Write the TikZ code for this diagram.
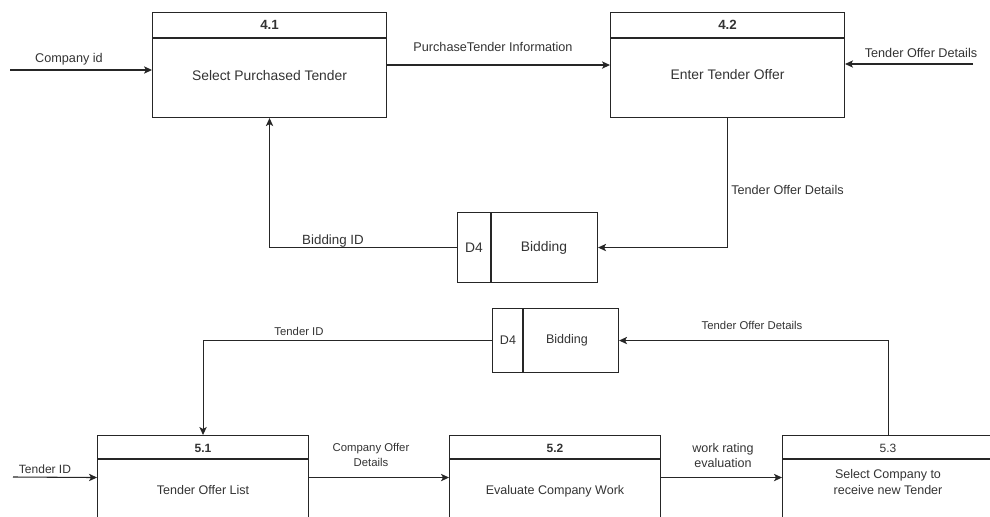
\documentclass[tikz,border=0pt]{standalone}
\usepackage{fontspec}
\setmainfont{Liberation Sans}
\usetikzlibrary{arrows.meta, positioning, calc}
\tikzset{
  box/.style     = {draw=black!85, line width=0.8pt, anchor=north west, inner sep=0pt},
  topproc/.style = {box, minimum width=175.5pt, minimum height=78.75pt},
  botproc/.style = {box, minimum width=158.25pt, minimum height=63pt},
  sep/.style     = {line width=0.8pt, draw=black!85},
  fl/.style      = {-{Stealth[length=6pt, width=5.5pt, inset=1.5pt]}, line width=0.8pt, draw=black!85},
  txt/.style     = {inner sep=0pt, text=black!80, align=center},
  hdtop/.style   = {txt, font=\fontsize{10}{12}\selectfont\bfseries},
  hdbot/.style   = {txt, font=\fontsize{9}{11}\selectfont\bfseries},
  ptop/.style    = {txt, font=\fontsize{10.4}{12.5}\selectfont},
  pbot/.style    = {txt, font=\fontsize{9.4}{12}\selectfont},
  ltop/.style    = {txt, font=\fontsize{9.5}{11.4}\selectfont},
  lbot/.style    = {txt, font=\fontsize{8.5}{11.25}\selectfont},
}

\begin{document}
\begin{tikzpicture}[x=0.75pt, y=-0.75pt]
\useasboundingbox (0,0) rectangle (990,517);
\clip (0,0) rectangle (990,517);

% --- level 4: select tender and enter offer ---------------------------------------
\node[topproc] (p41) at (152,12) {};
\node[topproc] (p42) at (610,12) {};
\node[box, minimum width=105pt, minimum height=52.5pt] (d4a) at (457,212) {};
\foreach \p in {p41,p42}
  \draw[sep] ($(\p.north west)+(0,26)$) -- ($(\p.north east)+(0,26)$);
\draw[sep] ($(d4a.north west)+(34,0)$) -- ($(d4a.south west)+(34,0)$);

\node[hdtop] (h41) at ($(p41.north)+(0,13)$) {4.1};
\node[ptop]  (t41) at ($(p41.north)+(0,64)$) {Select Purchased Tender};
\node[hdtop] (h42) at ($(p42.north)+(0,13)$) {4.2};
\node[ptop]  (t42) at ($(p42.north)+(0,63)$) {Enter Tender Offer};
\node[ptop]  (s4a) at ($(d4a.west)+(17,0)$) {D4};
\node[ptop]  (s4b) at ($(d4a.west)+(87,0)$) {Bidding};

\coordinate (cid) at (10,70);
\coordinate (tod) at (973,64);
\draw[fl] (cid) -- (cid -| p41.west);
\draw[fl] (p41.east) -- (p42.west);
\draw[fl] (tod) -- (tod -| p42.east);
\draw[fl] (p42.south) |- (d4a.east);
\draw[fl] (d4a.west) -| (p41.south);

\node[ltop] (lcid) at (69,59) {Company id};
\node[ltop] (lpti) at (493,47) {PurchaseTender Information};
\node[ltop] (ltd1) at (921,53) {Tender Offer Details};
\node[ltop, anchor=west] (ltd2) at (731,190) {Tender Offer Details};
\node[ltop, font=\fontsize{10}{12}\selectfont] (lbid) at (333,241) {Bidding ID};

% --- level 5: offer list, evaluation, selection -----------------------------------
\node[botproc] (p51) at (97,435) {};
\node[botproc] (p52) at (449,435) {};
\node[botproc] (p53) at (782,435) {};
\node[box, minimum width=94.5pt, minimum height=48pt] (d4b) at (492,308) {};
\foreach \p in {p51,p52,p53}
  \draw[sep] ($(\p.north west)+(0,24)$) -- ($(\p.north east)+(0,24)$);
\draw[sep] ($(d4b.north west)+(31,0)$) -- ($(d4b.south west)+(31,0)$);

\node[hdbot] (h51) at ($(p51.north)+(0,13)$) {5.1};
\node[pbot]  (t51) at ($(p51.north)+(0,55)$) {Tender Offer List};
\node[hdbot] (h52) at ($(p52.north)+(0,13)$) {5.2};
\node[pbot]  (t52) at ($(p52.north)+(0,56)$) {Evaluate Company Work};
\node[hdbot, font=\fontsize{9}{11}\selectfont] (h53) at ($(p53.north)+(0,13)$) {5.3};
\node[pbot]  (t53) at ($(p53.north)+(0,47)$) {Select Company to\\receive new Tender};
\node[pbot]  (s5a) at ($(d4b.west)+(16,0)$) {D4};
\node[pbot]  (s5b) at ($(d4b.west)+(75,0)$) {Bidding};

\coordinate (tid) at (13,477);
\draw[fl] (tid) -- (p51.west);
\draw[fl] (p51.east) -- (p52.west);
\draw[fl] (p52.east) -- (p53.west);
\draw[fl] (d4b.west) -| (p51.north);
\draw[fl] (p53.north) |- (d4b.east);

\node[lbot] (ltid1) at (299,331) {Tender ID};
\node[lbot, font=\fontsize{9}{11}\selectfont] (ltid2) at (45,469) {Tender ID};
\node[lbot] (lcod) at (371,455) {Company Offer\\Details};
\node[lbot, font=\fontsize{9.4}{11.25}\selectfont] (lwre) at (723,455.5) {work rating\\evaluation};
\node[lbot] (ltd3) at (752,325) {Tender Offer Details};
\end{tikzpicture}
\end{document}
